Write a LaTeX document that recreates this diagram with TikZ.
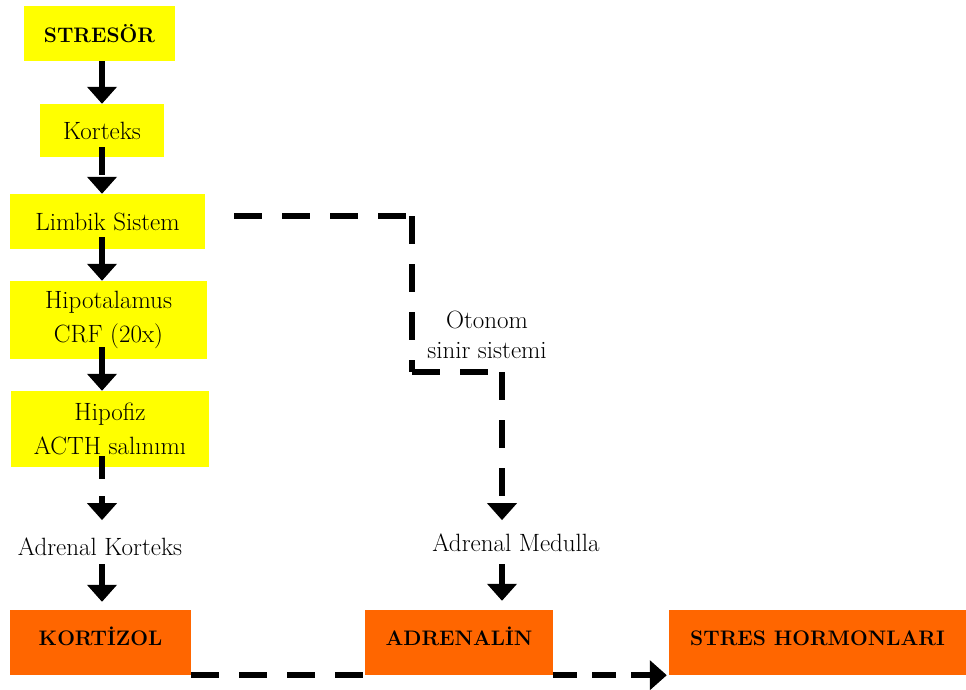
\documentclass[tikz,border=0pt]{standalone}
\usetikzlibrary{arrows.meta,calc}
\definecolor{ybox}{HTML}{FFFF00}
\definecolor{obox}{HTML}{FF6600}
\begin{document}
\begin{tikzpicture}[x=1pt,y=-1pt,
  yellowbox/.style={fill=ybox, inner sep=0pt, align=center, font=\fontsize{25}{34}\selectfont},
  orangebox/.style={fill=obox, inner sep=0pt, anchor=base, text height=35pt, text depth=30pt, font=\fontsize{21}{24}\selectfont\bfseries},
  lbl/.style={inner sep=0pt, align=center, font=\fontsize{25}{30}\selectfont},
  conn/.style={line width=6pt, dash pattern=on 28pt off 20pt, -{Triangle[width=29pt,length=17pt]}},
  dline/.style={line width=6pt, dash pattern=on 28pt off 20pt}]
\useasboundingbox (0,0) rectangle (966,689);

% boxes
\node[yellowbox, minimum width=151pt, minimum height=55pt] (stresor) at (99.5,33.5) {\fontsize{21}{24}\selectfont\bfseries STRESÖR};
\node[yellowbox, minimum width=124pt, minimum height=53pt] (korteks) at (102,130.5) {Korteks};
\node[yellowbox, minimum width=195pt, minimum height=55pt] (limbik) at (107.5,221.5) {Limbik Sistem};
\node[yellowbox, minimum width=197pt, minimum height=78pt] (hipot) at (108.5,320) {Hipotalamus\\CRF (20x)};
\node[yellowbox, minimum width=198pt, minimum height=76pt] (hipof) at (110,429) {Hipofiz\\ACTH salınımı};

\node[lbl, anchor=base] (adrkort) at (100,555) {Adrenal Korteks};
\node[lbl, anchor=base] (admed) at (516,551) {Adrenal Medulla};
\node[lbl] (oton) at (487,335) {Otonom\\sinir sistemi};

\node[orangebox, minimum width=181pt] (kortizol) at (100.5,645) {KORTİZOL};
\node[orangebox, minimum width=188pt] (adrenalin) at (459,645) {ADRENALİN};
\node[orangebox, minimum width=297pt] (streshorm) at (817.5,645) {STRES HORMONLARI};

% corner coordinates of the autonomic path
\coordinate (c0) at ($(limbik.east)+(29,-5.5)$);
\coordinate (c1) at (412,216);
\coordinate (c2) at (412,372);
\coordinate (c3) at (502,372);

% left column
\draw[conn] (stresor.south -| korteks.north) -- (korteks.north);
\draw[conn, shorten <=-10pt] (korteks.south) -- (limbik.north -| korteks.south);
\draw[conn, shorten <=-12pt] (limbik.south -| korteks.south) -- (hipot.north -| korteks.south);
\draw[conn, shorten <=-12pt] (hipot.south -| korteks.south) -- (hipof.north -| korteks.south);
\draw[conn, dash pattern=on 23pt off 17pt, shorten <=-11pt] (hipof.south -| korteks.south) -- ($(adrkort.north -| korteks.south)+(0,-17)$);
\draw[conn, shorten <=9pt, shorten >=8pt] (adrkort.south -| korteks.south) -- (kortizol.north -| korteks.south);

% autonomic path
\draw[conn, line cap=butt] (c0) -- (c1) (c1) -- (c2) (c2) -- (c3) (c3) -- ($(admed.north -| c3)+(0,-13)$);
\draw[conn, shorten <=13pt, shorten >=9pt] (admed.south -| c3) -- (adrenalin.north -| c3);

% bottom row
\draw[dline] (kortizol.south east) -- (adrenalin.south west);
\draw[conn, dash pattern=on 24pt off 15pt, shorten >=2pt] (adrenalin.south east) -- (streshorm.south west);
\end{tikzpicture}
\end{document}
